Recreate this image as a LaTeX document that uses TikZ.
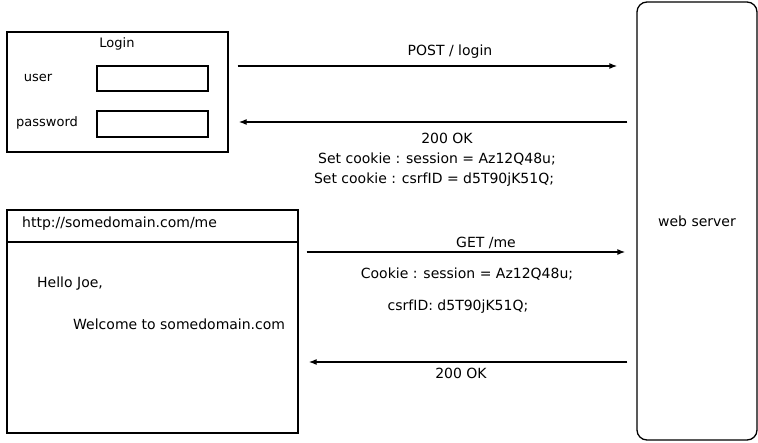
\documentclass[tikz,border=0pt]{standalone}
\usepackage{fontspec}
\setmainfont{DejaVu Sans}
\usetikzlibrary{arrows.meta}
\begin{document}
\begin{tikzpicture}[x=1pt,y=-1pt,
  box/.style={draw,line width=1.3pt,inner sep=0pt},
  conn/.style={line width=1.3pt,-{Latex[length=8pt,width=6pt]}},
  lbl/.style={font=\fontsize{14}{16}\selectfont,inner sep=0pt},
  small/.style={font=\fontsize{13}{15}\selectfont,inner sep=0pt}]
\useasboundingbox[fill=white] (0,0) rectangle (758,442);
% web server
\node[box,rounded corners=10pt,minimum width=120pt,minimum height=438pt,lbl] (server) at (697,221) {web server};
% login form
\node[box,minimum width=221pt,minimum height=120pt] (login) at (117.5,92) {};
\node[small] (logintitle) at (117,44) {Login};
\node[small] (userlbl) at (38,78) {user};
\node[small] (passlbl) at (47,123) {password};
\node[box,minimum width=111pt,minimum height=25pt] (userfield) at (152.5,78.5) {};
\node[box,minimum width=111pt,minimum height=26pt] (passfield) at (152.5,124) {};
% browser
\node[box,minimum width=291pt,minimum height=223pt] (browser) at (152.5,321.5) {};
\coordinate (barL) at (browser.west |- 0,242);
\coordinate (barR) at (browser.east |- 0,242);
\draw[line width=1.3pt] (barL) -- (barR);
\node[lbl,anchor=west] (url) at (22,224) {http://somedomain.com/me};
\node[lbl,anchor=west] (hello) at (37,284) {Hello Joe,};
\node[lbl,anchor=west] (welcome) at (73,324) {Welcome to somedomain.com};
% messages
\draw[conn,shorten <=9pt,shorten >=19pt] (login.east |- 0,66) -- (server.west |- 0,66);
\node[lbl] (postlbl) at (450,52) {POST / login};
\draw[conn,shorten <=9pt,shorten >=10pt] (server.west |- 0,122) -- (login.east |- 0,122);
\node[lbl] (ok1) at (447,138) {200 OK};
\node[lbl] (set1) at (437,159) {Set cookie : session = Az12Q48u;};
\node[lbl] (set2) at (434,180) {Set cookie : csrfID = d5T90jK51Q;};
\draw[conn,shorten <=8pt,shorten >=11pt] (browser.east |- 0,252) -- (server.west |- 0,252);
\node[lbl] (getlbl) at (486,243) {GET /me};
\node[lbl] (cookie1) at (467,274) {Cookie : session = Az12Q48u;};
\node[lbl] (cookie2) at (458,307) {csrfID: d5T90jK51Q;};
\draw[conn,shorten <=9pt,shorten >=10pt] (server.west |- 0,362) -- (browser.east |- 0,362);
\node[lbl] (ok2) at (461,373) {200 OK};
\end{tikzpicture}
\end{document}
